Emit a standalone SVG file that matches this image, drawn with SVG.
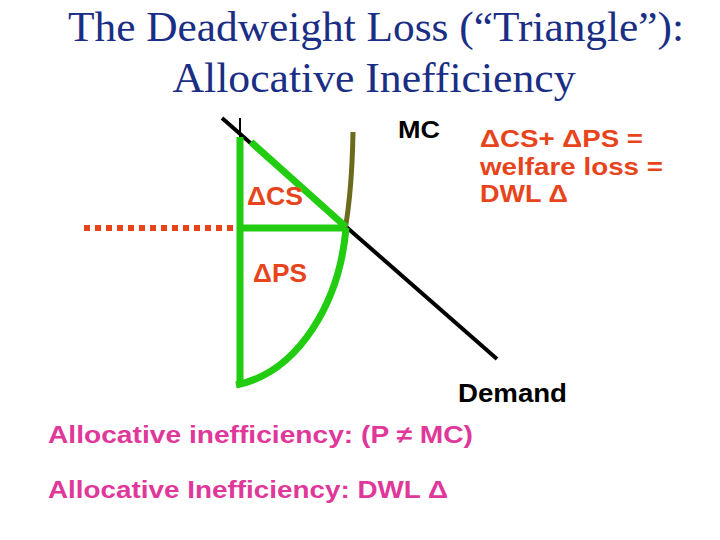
<svg xmlns="http://www.w3.org/2000/svg" width="720" height="540" viewBox="0 0 720 540">
<style>
.title{font-family:"Liberation Serif","Times New Roman",serif;font-size:42px;fill:#1a2e85;text-anchor:middle}
.lbl{font-family:"Liberation Sans",Arial,sans-serif;font-weight:bold}
.red{fill:#e8441c}
.pink{fill:#e0379b;font-size:24px}
.blk{fill:#000}
.green{stroke:#22cc11;stroke-width:7;fill:none}
</style>
<rect width="720" height="540" fill="#fff"/>
<g id="title">
<text class="title" x="376" y="41" textLength="616" lengthAdjust="spacingAndGlyphs">The Deadweight Loss (“Triangle”):</text>
<text class="title" x="374" y="92" textLength="403" lengthAdjust="spacingAndGlyphs">Allocative Inefficiency</text>
</g>
<g id="connectors">
<line x1="240" y1="118" x2="240" y2="138" stroke="#000" stroke-width="2"/>
<line id="demand-line" x1="222" y1="118" x2="497" y2="359" stroke="#000" stroke-width="4"/>
<line id="price-dots" x1="84" y1="228" x2="234" y2="228" stroke="#e8441c" stroke-width="6" stroke-dasharray="6 5"/>
<path id="mc-curve" d="M353,132 Q352,190 345,230" stroke="#6b6b1e" stroke-width="5" fill="none"/>
<line class="green" x1="240" y1="137" x2="240" y2="386"/>
<line class="green" x1="251" y1="142" x2="346" y2="227"/>
<line class="green" x1="240" y1="228" x2="346" y2="228"/>
<path class="green" d="M346,228 C340,300 300,372 236,385"/>
</g>
<g id="cs-label"><text class="lbl red" x="247" y="205" font-size="25" textLength="56" lengthAdjust="spacingAndGlyphs">ΔCS</text></g>
<g id="ps-label"><text class="lbl red" x="253" y="282" font-size="25" textLength="54" lengthAdjust="spacingAndGlyphs">ΔPS</text></g>
<g id="mc-label"><text class="lbl blk" x="398" y="138" font-size="24" textLength="42" lengthAdjust="spacingAndGlyphs">MC</text></g>
<g id="demand-label"><text class="lbl blk" x="458" y="402" font-size="25" textLength="109" lengthAdjust="spacingAndGlyphs">Demand</text></g>
<g id="welfare-note">
<text class="lbl red" x="480" y="147" font-size="24" textLength="163" lengthAdjust="spacingAndGlyphs">ΔCS+ ΔPS =</text>
<text class="lbl red" x="480" y="175" font-size="24" textLength="183" lengthAdjust="spacingAndGlyphs">welfare loss =</text>
<text class="lbl red" x="480" y="202" font-size="24" textLength="88" lengthAdjust="spacingAndGlyphs">DWL Δ</text>
</g>
<g id="bottom-notes">
<text class="lbl pink" x="48" y="443" textLength="425" lengthAdjust="spacingAndGlyphs">Allocative inefficiency: (P ≠ MC)</text>
<text class="lbl pink" x="48" y="498" textLength="400" lengthAdjust="spacingAndGlyphs">Allocative Inefficiency: DWL Δ</text>
</g>
</svg>
